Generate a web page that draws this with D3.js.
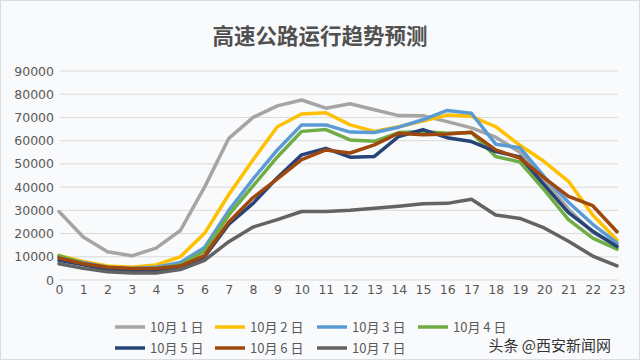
<!DOCTYPE html>
<html><head><meta charset="utf-8">
<script src="https://cdn.jsdelivr.net/npm/d3@7"></script>
<style>body{margin:0;background:#fff}svg{display:block}</style>
</head><body>
<svg id="c" width="640" height="360"></svg>
<script>
const title = "高速公路运行趋势预测";
const hours = d3.range(0, 24);
const yTicks = [0,10000,20000,30000,40000,50000,60000,70000,80000,90000];
const seriesNames = ["10月 1 日","10月 2 日","10月 3 日","10月 4 日","10月 5 日","10月 6 日","10月 7 日"];
const colors = ["#a5a5a5","#ffc000","#5b9bd5","#70ad47","#264478","#9e480e","#636363"];
const oct1 = [29500,18500,12200,10400,13700,21300,40000,61000,70000,75000,77500,74000,75900,73300,70800,70700,68200,65500,61500,55000,43000,30500,20500,14800];
const oct2 = [10500,8000,6000,5500,6500,10000,20100,36800,51800,66000,71500,72000,66800,64000,66000,68500,71000,70500,66000,58000,51000,42500,28000,17200];
const oct3 = [10000,7500,5500,5000,5500,7500,14000,30000,43500,56000,66800,66800,63700,63500,65800,69000,73000,71800,58500,57000,44500,33500,24000,16000];
const oct4 = [10500,7000,5000,4500,5000,6500,12500,28000,40500,53000,64000,64800,60300,59700,63500,64000,63200,63500,53200,50800,38800,26000,18000,13300];
const oct5 = [8500,6500,4500,4000,4000,5500,10000,24000,33000,44000,53900,56700,52900,53200,61800,64700,61300,59600,55300,53000,41000,29000,21000,14400];
const oct6 = [9500,7000,5500,5000,5000,6000,10500,25000,35500,43500,51800,56000,54700,58200,63200,62500,62900,63600,56000,52500,44000,36000,32000,20800];
const oct7 = [7000,5000,3500,3000,3000,4500,8500,16500,22800,26000,29500,29500,30000,30900,31800,32800,33000,34800,28000,26500,22400,16700,10300,6100];
const seriesValues = [oct1,oct2,oct3,oct4,oct5,oct6,oct7];

const svg = d3.select("#c");
svg.append("rect").attr("x",0.5).attr("y",0.5).attr("width",639).attr("height",359)
  .attr("fill","#f9fafc").attr("stroke","#dcdde0");

const font = "'Noto Sans CJK SC','DejaVu Sans',sans-serif";
svg.append("text").attr("x",320).attr("y",44).attr("text-anchor","middle")
  .attr("font-family",font).attr("font-weight","bold").attr("font-size",21.5)
  .attr("fill","#505050").text(title);

const x = d3.scaleLinear().domain([0,23]).range([59,617]);
const y = d3.scaleLinear().domain([0,90000]).range([280,71]);

// grid
svg.append("g").selectAll("line").data(yTicks).join("line")
  .attr("x1",60).attr("x2",618).attr("y1",d=>y(d)).attr("y2",d=>y(d))
  .attr("stroke","#d9d9d9").attr("stroke-width",1);

const yAxis = svg.append("g").attr("transform","translate(54,0)")
  .call(d3.axisLeft(y).tickValues(yTicks).tickSize(0).tickPadding(0).tickFormat(d3.format("d")));
yAxis.select(".domain").remove();
yAxis.selectAll("text").attr("font-family","'DejaVu Sans',sans-serif").attr("font-size",12.5).attr("fill","#595959");

const xAxis = svg.append("g").attr("transform","translate(0,283)")
  .call(d3.axisBottom(x).tickValues(hours).tickSize(0).tickPadding(2).tickFormat(d3.format("d")));
xAxis.select(".domain").remove();
xAxis.selectAll("text").attr("font-family","'DejaVu Sans',sans-serif").attr("font-size",12.5).attr("fill","#595959");

const line = d3.line().x((d,i)=>x(hours[i])).y(d=>y(d));
svg.append("g").selectAll("path").data(seriesValues).join("path")
  .attr("d",line).attr("fill","none")
  .attr("stroke",(d,i)=>colors[i]).attr("stroke-width",3.5)
  .attr("stroke-linejoin","round").attr("stroke-linecap","round");

// legend
const colX = [115,215,317,418];
const rowY = [327,348];
const lg = svg.append("g").selectAll("g").data(seriesNames).join("g")
  .attr("transform",(d,i)=>`translate(${colX[i%4]},${rowY[Math.floor(i/4)]})`);
lg.append("line").attr("x1",0).attr("x2",30).attr("y1",0).attr("y2",0)
  .attr("stroke",(d,i)=>colors[i]).attr("stroke-width",3.5);
lg.append("text").attr("x",35).attr("y",5).attr("font-family",font).attr("font-size",13)
  .attr("fill","#595959").text(d=>d);

// watermark
svg.append("text").attr("x",611).attr("y",351).attr("text-anchor","end")
  .attr("font-family",font).attr("font-size",15).attr("fill","#333")
  .attr("stroke","#fff").attr("stroke-width",0.6).attr("paint-order","stroke")
  .text("头条 @西安新闻网");
</script>
</body></html>
